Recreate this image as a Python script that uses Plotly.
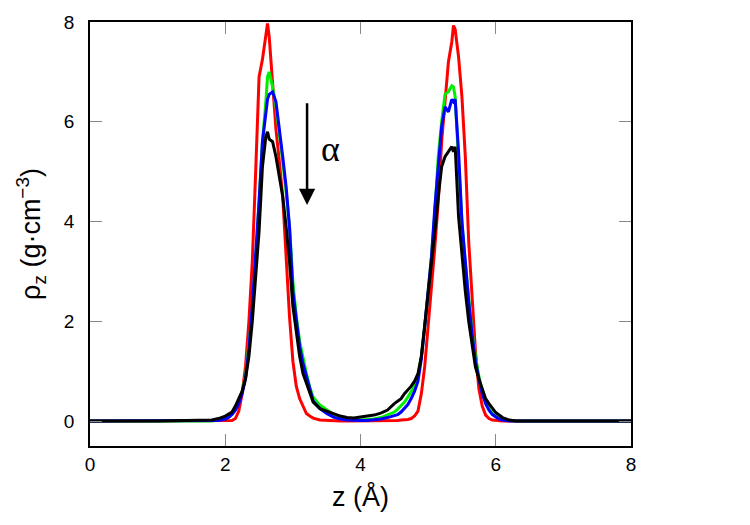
import plotly.graph_objects as go

# shared z grid (Å)
z = [0.0, 1.0, 1.8, 1.9, 2.0,
     2.05, 2.1, 2.15, 2.2, 2.25, 2.3, 2.35, 2.4, 2.45, 2.5, 2.55, 2.6,
     2.625,
     2.65, 2.7, 2.75, 2.8, 2.85, 2.9, 2.95, 3.0, 3.05, 3.1, 3.15, 3.2, 3.25, 3.3,
     3.4, 3.5, 3.6, 3.7, 3.8, 3.9, 4.0, 4.1, 4.2, 4.3, 4.4, 4.5,
     4.55, 4.6, 4.65, 4.7, 4.75, 4.8, 4.85, 4.9, 4.95, 5.0, 5.05, 5.1, 5.15, 5.2, 5.25, 5.3, 5.35,
     5.375,
     5.4, 5.45, 5.5, 5.55, 5.6, 5.65, 5.7, 5.75, 5.8, 5.85, 5.9, 5.95, 6.0, 6.05, 6.1,
     6.2, 6.3, 6.5, 7.0, 8.0]

rho_red = [0, 0, 0, 0, 0,
           0.0, 0.01, 0.05, 0.2, 0.55, 1.1, 2.0, 3.2, 5.0, 6.9, 7.25, 7.7,
           7.97,
           7.7, 6.8, 5.85, 5.2, 4.5, 3.3, 2.1, 1.2, 0.7, 0.45, 0.28, 0.15, 0.1, 0.06,
           0.02, 0.01, 0, 0, 0, 0, 0, 0, 0, 0, 0, 0.01,
           0.01, 0.02, 0.02, 0.03, 0.05, 0.1, 0.2, 0.55, 1.1, 1.9, 2.6, 3.5, 4.4, 5.6, 6.4, 7.2, 7.6,
           7.93,
           7.85, 7.3, 6.5, 5.3, 3.6, 2.5, 1.4, 0.65, 0.3, 0.12, 0.05, 0.02, 0.01, 0, 0,
           0, 0, 0, 0, 0]

rho_green = [0, 0, 0, 0.02, 0.05,
             0.08, 0.15, 0.25, 0.4, 0.6, 0.9, 1.5, 2.2, 3.2, 4.3, 5.6, 6.4,
             6.9,
             7.0, 6.7, 6.3, 5.8, 5.2, 4.6, 3.9, 2.8, 2.1, 1.6, 1.25, 0.95, 0.68, 0.48,
             0.32, 0.22, 0.13, 0.08, 0.05, 0.03, 0.02, 0.03, 0.04, 0.07, 0.12, 0.18,
             0.24, 0.3, 0.38, 0.48, 0.58, 0.7, 0.9, 1.3, 1.9, 2.6, 3.3, 4.2, 5.3, 6.0, 6.55, 6.6, 6.72,
             6.7,
             6.5, 5.2, 4.0, 3.15, 2.45, 1.8, 1.3, 0.9, 0.6, 0.4, 0.25, 0.15, 0.09, 0.05, 0.03,
             0.01, 0, 0, 0, 0]

rho_blue = [0, 0, 0, 0.01, 0.04,
            0.07, 0.13, 0.22, 0.35, 0.55, 0.85, 1.45, 2.3, 3.3, 4.4, 5.6, 6.2,
            6.45,
            6.55, 6.6, 6.4, 5.9, 5.3, 4.7, 3.9, 2.6, 2.0, 1.5, 1.15, 0.9, 0.6, 0.4,
            0.25, 0.15, 0.08, 0.04, 0.02, 0.01, 0.01, 0.01, 0.02, 0.04, 0.07, 0.1,
            0.13, 0.18, 0.25, 0.33, 0.45, 0.6, 0.8, 1.25, 1.9, 2.6, 3.3, 4.3, 5.2, 5.9, 6.3, 6.2, 6.45,
            6.4,
            6.45, 5.4, 4.0, 3.1, 2.4, 1.75, 1.2, 0.85, 0.55, 0.35, 0.22, 0.13, 0.08, 0.04, 0.02,
            0, 0, 0, 0, 0]

rho_black = [0, 0, 0.02, 0.05, 0.1,
             0.14, 0.18, 0.3, 0.45, 0.6, 0.85, 1.3, 2.0, 2.85, 3.8, 5.1, 5.7,
             5.8,
             5.65, 5.6, 5.3, 4.9, 4.5, 3.9, 3.2, 2.3, 1.8, 1.3, 0.95, 0.75, 0.55, 0.38,
             0.25, 0.2, 0.15, 0.1, 0.07, 0.06, 0.08, 0.1, 0.12, 0.16, 0.22, 0.35,
             0.4, 0.45, 0.55, 0.62, 0.7, 0.8, 0.95, 1.3, 1.9, 2.5, 3.07, 3.8, 4.5, 5.1, 5.3, 5.4, 5.5,
             5.4,
             5.5, 4.1, 3.3, 2.6, 2.0, 1.5, 1.08, 0.85, 0.65, 0.45, 0.35, 0.25, 0.17, 0.12, 0.07,
             0.02, 0, 0, 0, 0]

series = [("red", rho_red, "#ff0000"),
          ("green", rho_green, "#00ee00"),
          ("blue", rho_blue, "#0000ff"),
          ("black", rho_black, "#000000")]

x_ticks = [0, 2, 4, 6, 8]
y_ticks = [0, 2, 4, 6, 8]

fig = go.Figure()
for name, r, c in series:
    fig.add_trace(go.Scatter(x=z, y=r, mode="lines", name=name,
                             line=dict(color=c, width=3), showlegend=False))

axis_common = dict(showgrid=False, zeroline=False, showline=True, linecolor="black",
                   linewidth=1.5, mirror="ticks", ticks="inside", ticklen=12,
                   tickwidth=1, tickcolor="#888888",
                   tickfont=dict(family="Liberation Sans, Arial", size=19, color="black"))

fig.update_xaxes(range=[0, 8], tickvals=x_ticks, **axis_common,
                 title=dict(text="z (Å)", font=dict(family="Liberation Sans, Arial", size=27, color="black"),
                            standoff=14))
fig.update_yaxes(range=[-0.5, 8], tickvals=y_ticks, ticklabelstandoff=10, **axis_common,
                 title=dict(text="ρ<sub>z</sub> (g·cm<sup>−3</sup>)",
                            font=dict(family="Liberation Sans, Arial", size=27, color="black"),
                            standoff=15))

fig.add_annotation(x=3.21, y=4.33, ax=3.21, ay=6.4, xref="x", yref="y",
                   axref="x", ayref="y", showarrow=True, arrowhead=2,
                   arrowsize=1.3, arrowwidth=2.5, arrowcolor="black", text="")
fig.add_annotation(x=3.55, y=5.45, xref="x", yref="y", text="α", showarrow=False,
                   font=dict(family="Liberation Serif, Times New Roman", size=36, color="black"))

fig.update_layout(width=750, height=525, paper_bgcolor="white", plot_bgcolor="white",
                  margin=dict(l=90, r=119, t=18, b=79))

fig.write_html("out.html")
